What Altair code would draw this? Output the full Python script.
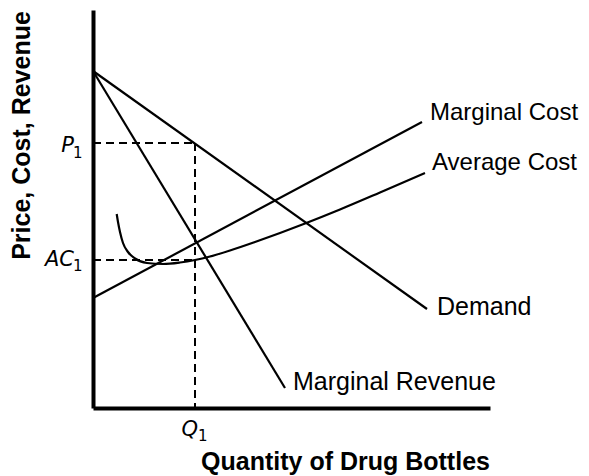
import altair as alt
import pandas as pd

# Curves in plot units (x: quantity, y: price/cost)
demand_x = [0, 334]
demand_y = [337, 99]
mr_x = [0, 192]
mr_y = [337, 20]
mc_x = [0, 329]
mc_y = [110, 286]
ac_x = [23.7, 25, 27, 30, 35, 42, 54, 70, 87, 102, 117, 137, 162, 187, 212, 247, 287, 332]
ac_y = [194, 186, 176, 165, 156, 149.5, 145, 144, 145.5, 148, 151.5, 157.5, 166, 175, 184.5, 198.5, 215.5, 235]

q1 = 102
p1 = 265
ac1 = 148

cost_labels = ["Marginal Cost", "Average Cost"]
cost_label_x = [337, 339]
cost_label_y = [295, 245]
rev_labels = ["Demand", "Marginal Revenue"]
rev_label_x = [344, 200]
rev_label_y = [101, 26]

rows = []
for name, xs, ys in [("Demand", demand_x, demand_y), ("MR", mr_x, mr_y),
                     ("MC", mc_x, mc_y), ("AC", ac_x, ac_y)]:
    for i, (a, b) in enumerate(zip(xs, ys)):
        rows.append({"series": name, "x": a, "y": b, "o": i})
curves = pd.DataFrame(rows)

dash_rows = [
    {"seg": "p1", "x": 0, "y": p1, "o": 0}, {"seg": "p1", "x": q1, "y": p1, "o": 1},
    {"seg": "q1", "x": q1, "y": p1, "o": 0}, {"seg": "q1", "x": q1, "y": 0, "o": 1},
    {"seg": "ac1", "x": 0, "y": ac1, "o": 0}, {"seg": "ac1", "x": q1, "y": ac1, "o": 1},
]
dashes = pd.DataFrame(dash_rows)

xs = alt.Scale(domain=[0, 397], nice=False, zero=False)
ys = alt.Scale(domain=[0, 398], nice=False, zero=False)

base_axes = alt.Chart(pd.DataFrame({"x": [0], "y": [0]})).mark_point(opacity=0).encode(
    x=alt.X("x:Q", scale=xs, axis=alt.Axis(
        title="Quantity of Drug Bottles", labels=False, ticks=False, grid=False,
        domainColor="black", domainWidth=4, titleFont="Liberation Sans",
        titleFontSize=25, titleFontWeight="bold", titleColor="black",
        titleX=252, titleY=53, titleAnchor="middle", titleAlign="center",
        titleBaseline="middle")),
    y=alt.Y("y:Q", scale=ys, axis=alt.Axis(
        title="Price, Cost, Revenue", labels=False, ticks=False, grid=False,
        domainColor="black", domainWidth=4, titleFont="Liberation Sans",
        titleFontSize=25, titleFontWeight="bold", titleColor="black",
        titleX=-71.5, titleY=125, titleAngle=-90, titleAlign="center",
        titleBaseline="middle")),
)

lines = alt.Chart(curves).mark_line(color="black", strokeWidth=2.2, interpolate="monotone").encode(
    x=alt.X("x:Q", scale=xs), y=alt.Y("y:Q", scale=ys), detail="series:N", order="o:Q")

dash_lines = alt.Chart(dashes).mark_line(color="black", strokeWidth=2, strokeDash=[8, 5]).encode(
    x=alt.X("x:Q", scale=xs), y=alt.Y("y:Q", scale=ys), detail="seg:N", order="o:Q")

text1 = alt.Chart(pd.DataFrame({"t": cost_labels, "x": cost_label_x, "y": cost_label_y})).mark_text(
    align="left", baseline="middle", font="Liberation Sans", fontSize=24, color="black").encode(
    x=alt.X("x:Q", scale=xs), y=alt.Y("y:Q", scale=ys), text="t:N")
text2 = alt.Chart(pd.DataFrame({"t": rev_labels, "x": rev_label_x, "y": rev_label_y})).mark_text(
    align="left", baseline="middle", font="Liberation Sans", fontSize=25, color="black").encode(
    x=alt.X("x:Q", scale=xs), y=alt.Y("y:Q", scale=ys), text="t:N")

math_main = pd.DataFrame({"t": ["P", "AC", "Q"], "x": [-19, -19, 105], "y": [262, 148.5, -21.5]})
math_sub = pd.DataFrame({"t": ["1", "1", "1"], "x": [-20, -20, 105], "y": [255.5, 142, -28]})

mtext = alt.Chart(math_main).mark_text(align="right", baseline="middle", font="DejaVu Sans",
                                       fontStyle="italic", fontSize=21, color="black").encode(
    x=alt.X("x:Q", scale=xs), y=alt.Y("y:Q", scale=ys), text="t:N")
stext = alt.Chart(math_sub).mark_text(align="left", baseline="middle", font="DejaVu Sans",
                                      fontSize=15, color="black").encode(
    x=alt.X("x:Q", scale=xs), y=alt.Y("y:Q", scale=ys), text="t:N")

chart = alt.layer(base_axes, dash_lines, lines, text1, text2, mtext, stext).properties(
    width=397, height=398,
    autosize=alt.AutoSizeParams(type="none"),
    padding={"left": 85, "top": 2, "right": 91, "bottom": 68},
).configure_view(stroke=None)

chart.save("out.html", embed_options={"renderer": "svg", "actions": False})
